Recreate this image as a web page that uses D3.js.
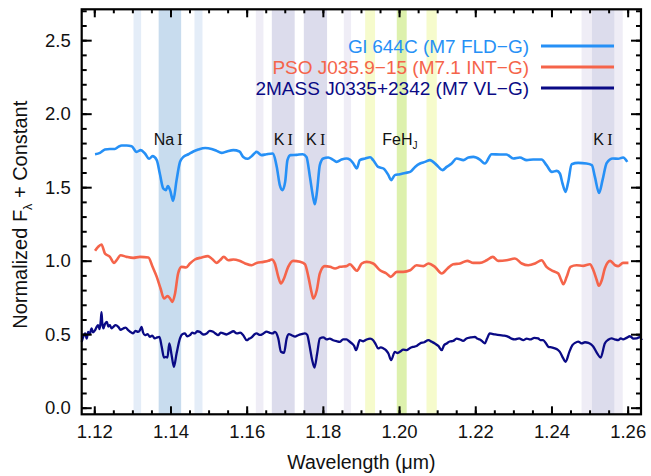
<!DOCTYPE html>
<html>
<head>
<meta charset="utf-8">
<script src="https://cdn.jsdelivr.net/npm/d3@7"></script>
<style>
  body { margin: 0; background: #fff; }
  text { font-family: "Liberation Sans", Arial, sans-serif; }
</style>
</head>
<body>
<svg id="chart" width="651" height="476"></svg>
<script>
// spectra: [wavelength (um), normalized flux + constant]
const gl644c = [
  [1.1202,1.724],[1.1215,1.733],[1.1228,1.756],[1.1241,1.760],[1.1254,1.760],[1.1263,1.774],
  [1.1272,1.784],[1.1285,1.784],[1.1298,1.779],[1.1311,1.740],[1.1322,1.752],[1.1333,1.729],
  [1.1344,1.693],[1.1353,1.711],[1.1364,1.684],[1.1372,1.593],[1.1381,1.491],[1.1388,1.480],
  [1.1393,1.507],[1.1399,1.480],[1.1407,1.407],[1.1416,1.548],[1.1425,1.672],[1.1434,1.706],
  [1.1447,1.724],[1.1460,1.743],[1.1473,1.756],[1.1491,1.767],[1.1508,1.760],[1.1521,1.747],
  [1.1534,1.733],[1.1548,1.743],[1.1565,1.752],[1.1581,1.743],[1.1591,1.706],[1.1603,1.693],
  [1.1613,1.711],[1.1626,1.740],[1.1639,1.718],[1.1652,1.724],[1.1668,1.729],[1.1679,1.638],
  [1.1687,1.514],[1.1694,1.480],[1.1701,1.536],[1.1707,1.684],[1.1715,1.718],[1.1731,1.720],
  [1.1747,1.724],[1.1757,1.706],[1.1766,1.570],[1.1775,1.423],[1.1779,1.384],[1.1785,1.480],
  [1.1792,1.650],[1.1801,1.695],[1.1814,1.702],[1.1826,1.688],[1.1836,1.672],[1.1849,1.688],
  [1.1862,1.695],[1.1871,1.688],[1.1880,1.661],[1.1889,1.627],[1.1897,1.684],[1.1911,1.695],
  [1.1924,1.704],[1.1932,1.684],[1.1945,1.638],[1.1959,1.627],[1.1972,1.582],[1.1979,1.548],
  [1.1989,1.582],[1.2002,1.588],[1.2016,1.597],[1.2029,1.604],[1.2042,1.638],[1.2055,1.661],
  [1.2068,1.672],[1.2081,1.684],[1.2099,1.650],[1.2114,1.616],[1.2125,1.638],[1.2138,1.661],
  [1.2151,1.695],[1.2169,1.684],[1.2182,1.702],[1.2195,1.706],[1.2212,1.688],[1.2225,1.661],
  [1.2243,1.724],[1.2265,1.722],[1.2282,1.722],[1.2300,1.695],[1.2317,1.702],[1.2335,1.684],
  [1.2352,1.688],[1.2374,1.688],[1.2387,1.650],[1.2401,1.604],[1.2414,1.611],[1.2422,1.593],
  [1.2429,1.525],[1.2437,1.468],[1.2444,1.536],[1.2453,1.656],[1.2470,1.665],[1.2492,1.661],
  [1.2506,1.650],[1.2514,1.570],[1.2525,1.461],[1.2534,1.548],[1.2545,1.665],[1.2561,1.695],
  [1.2575,1.693],[1.2588,1.702],[1.2599,1.672]
];

const pso035 = [
  [1.1202,1.067],[1.1210,1.094],[1.1219,1.110],[1.1228,1.049],[1.1241,1.026],[1.1252,0.985],
  [1.1260,1.008],[1.1269,1.037],[1.1285,1.026],[1.1302,1.019],[1.1320,1.026],[1.1342,1.022],
  [1.1353,0.958],[1.1364,0.890],[1.1374,0.811],[1.1383,0.743],[1.1392,0.759],[1.1399,0.743],
  [1.1405,0.720],[1.1412,0.777],[1.1420,0.913],[1.1429,0.958],[1.1441,0.954],[1.1451,0.981],
  [1.1464,1.008],[1.1482,1.022],[1.1498,1.031],[1.1511,1.008],[1.1521,0.985],[1.1530,1.003],
  [1.1540,1.026],[1.1552,1.003],[1.1565,1.008],[1.1581,0.999],[1.1596,0.981],[1.1613,0.969],
  [1.1626,0.985],[1.1644,0.992],[1.1657,0.999],[1.1666,1.008],[1.1674,0.981],[1.1683,0.890],
  [1.1690,0.845],[1.1698,0.879],[1.1709,0.958],[1.1722,0.999],[1.1740,0.992],[1.1753,0.976],
  [1.1762,0.890],[1.1771,0.777],[1.1775,0.743],[1.1784,0.799],[1.1792,0.913],[1.1805,0.963],
  [1.1819,0.958],[1.1832,0.947],[1.1845,0.958],[1.1862,0.963],[1.1871,0.976],[1.1880,0.954],
  [1.1889,0.931],[1.1902,0.981],[1.1915,0.992],[1.1932,0.981],[1.1950,0.935],[1.1967,0.913],
  [1.1978,0.890],[1.1994,0.924],[1.2011,0.924],[1.2029,0.935],[1.2046,0.969],[1.2064,0.963],
  [1.2077,0.981],[1.2094,0.958],[1.2112,0.913],[1.2127,0.947],[1.2142,0.976],[1.2160,0.981],
  [1.2179,0.999],[1.2195,0.985],[1.2212,0.985],[1.2230,1.003],[1.2246,1.026],[1.2260,0.999],
  [1.2282,1.003],[1.2304,1.015],[1.2322,0.981],[1.2339,0.969],[1.2357,0.981],[1.2374,1.003],
  [1.2387,0.958],[1.2403,0.931],[1.2418,0.913],[1.2425,0.872],[1.2431,0.840],[1.2440,0.890],
  [1.2450,0.958],[1.2466,0.969],[1.2483,0.965],[1.2501,0.976],[1.2510,0.935],[1.2519,0.867],
  [1.2524,0.829],[1.2532,0.867],[1.2540,0.947],[1.2554,0.999],[1.2567,0.969],[1.2575,0.963],
  [1.2588,0.985],[1.2602,0.985]
];

const j0335 = [
  [1.1167,0.448],[1.1171,0.482],[1.1176,0.505],[1.1180,0.470],[1.1184,0.516],[1.1188,0.500],
  [1.1193,0.539],[1.1197,0.512],[1.1202,0.527],[1.1206,0.548],[1.1210,0.561],[1.1214,0.535],
  [1.1217,0.590],[1.1219,0.650],[1.1221,0.575],[1.1224,0.539],[1.1228,0.570],[1.1233,0.584],
  [1.1237,0.552],[1.1241,0.561],[1.1245,0.540],[1.1250,0.550],[1.1256,0.562],[1.1263,0.550],
  [1.1269,0.530],[1.1276,0.539],[1.1282,0.545],[1.1289,0.527],[1.1295,0.515],[1.1302,0.505],
  [1.1308,0.522],[1.1315,0.516],[1.1320,0.528],[1.1324,0.550],[1.1328,0.512],[1.1333,0.493],
  [1.1340,0.500],[1.1346,0.482],[1.1352,0.490],[1.1359,0.471],[1.1365,0.478],[1.1371,0.482],
  [1.1377,0.414],[1.1383,0.341],[1.1388,0.345],[1.1392,0.341],[1.1397,0.437],[1.1403,0.357],
  [1.1409,0.278],[1.1416,0.369],[1.1425,0.471],[1.1431,0.500],[1.1438,0.505],[1.1444,0.485],
  [1.1451,0.493],[1.1457,0.510],[1.1464,0.505],[1.1470,0.520],[1.1477,0.516],[1.1486,0.498],
  [1.1495,0.505],[1.1503,0.522],[1.1512,0.516],[1.1518,0.505],[1.1525,0.493],[1.1532,0.510],
  [1.1539,0.505],[1.1547,0.498],[1.1556,0.509],[1.1565,0.520],[1.1574,0.505],[1.1583,0.510],
  [1.1591,0.493],[1.1600,0.459],[1.1607,0.470],[1.1613,0.478],[1.1620,0.498],[1.1626,0.505],
  [1.1635,0.495],[1.1644,0.505],[1.1652,0.518],[1.1661,0.509],[1.1668,0.505],[1.1674,0.516],
  [1.1683,0.471],[1.1690,0.380],[1.1698,0.373],[1.1705,0.471],[1.1711,0.500],[1.1718,0.493],
  [1.1727,0.484],[1.1735,0.493],[1.1744,0.500],[1.1753,0.505],[1.1759,0.495],[1.1764,0.437],
  [1.1772,0.323],[1.1778,0.273],[1.1785,0.369],[1.1792,0.471],[1.1801,0.478],[1.1810,0.464],
  [1.1818,0.470],[1.1827,0.459],[1.1836,0.452],[1.1845,0.448],[1.1853,0.465],[1.1862,0.464],
  [1.1869,0.452],[1.1876,0.437],[1.1882,0.420],[1.1887,0.391],[1.1897,0.459],[1.1906,0.452],
  [1.1915,0.464],[1.1924,0.470],[1.1932,0.459],[1.1939,0.430],[1.1945,0.403],[1.1952,0.410],
  [1.1959,0.403],[1.1966,0.390],[1.1972,0.369],[1.1979,0.323],[1.1989,0.380],[1.1995,0.372],
  [1.2002,0.380],[1.2011,0.395],[1.2020,0.391],[1.2028,0.405],[1.2037,0.414],[1.2046,0.420],
  [1.2055,0.437],[1.2066,0.445],[1.2077,0.459],[1.2086,0.448],[1.2094,0.437],[1.2103,0.420],
  [1.2112,0.391],[1.2118,0.425],[1.2125,0.437],[1.2133,0.450],[1.2142,0.454],[1.2151,0.470],
  [1.2160,0.464],[1.2168,0.455],[1.2177,0.471],[1.2188,0.478],[1.2199,0.482],[1.2205,0.470],
  [1.2212,0.464],[1.2219,0.450],[1.2225,0.437],[1.2231,0.470],[1.2238,0.505],[1.2252,0.498],
  [1.2265,0.493],[1.2276,0.490],[1.2287,0.482],[1.2295,0.470],[1.2304,0.464],[1.2315,0.472],
  [1.2326,0.459],[1.2335,0.470],[1.2344,0.464],[1.2355,0.475],[1.2365,0.471],[1.2371,0.460],
  [1.2378,0.459],[1.2385,0.440],[1.2392,0.414],[1.2400,0.410],[1.2409,0.403],[1.2416,0.395],
  [1.2422,0.380],[1.2431,0.335],[1.2437,0.312],[1.2447,0.380],[1.2455,0.425],[1.2462,0.441],
  [1.2470,0.450],[1.2479,0.437],[1.2488,0.445],[1.2497,0.441],[1.2504,0.430],[1.2510,0.414],
  [1.2520,0.369],[1.2529,0.341],[1.2540,0.437],[1.2549,0.462],[1.2558,0.471],[1.2566,0.465],
  [1.2575,0.459],[1.2582,0.472],[1.2588,0.464],[1.2597,0.475],[1.2606,0.486],[1.2615,0.470],
  [1.2624,0.471],[1.2631,0.480],[1.2637,0.459]
];

const seriesNames = ["Gl 644C (M7 FLD\u2212G)", "PSO J035.9\u221215 (M7.1 INT\u2212G)", "2MASS J0335+2342 (M7 VL\u2212G)"];
const seriesColors = ["#2690f6", "#f5644a", "#0a0a85"];

// shaded index regions [start, end, colour]
const bands = [
  [1.1303, 1.1323, "#e4edf8"], [1.1369, 1.1428, "#c8dcee"], [1.1463, 1.1484, "#e4edf8"],
  [1.1624, 1.1644, "#efedf6"], [1.1666, 1.1726, "#dcdcec"], [1.1750, 1.1811, "#dcdcec"],
  [1.1855, 1.1874, "#efedf6"],
  [1.1911, 1.1937, "#f6fbcc"], [1.1994, 1.2020, "#ddf1ad"], [1.2072, 1.2099, "#f6fbcc"],
  [1.2479, 1.2506, "#efedf6"], [1.2506, 1.2566, "#dcdcec"], [1.2566, 1.2587, "#efedf6"]
];

// feature labels [wavelength, element, ion, subscript]
const features = [
  [1.1394, "Na", "I", ""], [1.1696, "K", "I", ""], [1.1781, "K", "I", ""],
  [1.2002, "FeH", "", "J"], [1.2535, "K", "I", ""]
];

const xTicks = [1.12, 1.14, 1.16, 1.18, 1.20, 1.22, 1.24, 1.26];
const yTicks = [0.0, 0.5, 1.0, 1.5, 2.0, 2.5];

const margin = { top: 9.3, right: 10, bottom: 61.7, left: 81.7 };
const width = 651, height = 476;

const svg = d3.select("#chart");

const x = d3.scaleLinear().domain([1.1167, 1.2635]).range([margin.left, width - margin.right]);
const y = d3.scaleLinear().domain([-0.045, 2.71]).range([height - margin.bottom, margin.top]);

// bands
svg.append("g")
  .selectAll("rect")
  .data(bands)
  .join("rect")
  .attr("x", d => x(d[0]))
  .attr("width", d => x(d[1]) - x(d[0]))
  .attr("y", y.range()[1])
  .attr("height", y.range()[0] - y.range()[1])
  .attr("fill", d => d[2]);

// spectra
const line = d3.line().x(d => x(d[0])).y(d => y(d[1])).curve(d3.curveMonotoneX);
[gl644c, pso035, j0335].forEach((s, i) => {
  svg.append("path")
    .attr("d", line(s))
    .attr("fill", "none")
    .attr("stroke", seriesColors[i])
    .attr("stroke-width", i == 2 ? 2.3 : 2.6)
    .attr("stroke-linejoin", "round");
});

// feature labels
const lab = svg.append("g")
  .selectAll("text")
  .data(features)
  .join("text")
  .attr("x", d => x(d[0]))
  .attr("y", y(1.785))
  .attr("text-anchor", "middle")
  .attr("font-size", 16)
  .attr("fill", "#111");
lab.append("tspan").text(d => d[1]);
lab.filter(d => d[2]).append("tspan")
  .attr("font-family", "'Liberation Serif', 'Times New Roman', serif")
  .text(d => "\u2009" + d[2]);
lab.filter(d => d[3]).append("tspan")
  .attr("font-size", 10).attr("dy", 4)
  .text(d => d[3]);

// axes
const frame = svg.append("g");
const tickFmt = d3.format(".2f");
const minorX = d3.range(1.12, 1.2631, 0.005);
const minorY = d3.range(0, 2.71, 0.1);

frame.append("g")
  .attr("transform", `translate(0,${y.range()[0]})`)
  .call(d3.axisBottom(x).tickValues(minorX).tickSize(-4).tickFormat(""))
  .call(g => g.select(".domain").remove());
frame.append("g")
  .attr("transform", `translate(0,${y.range()[0]})`)
  .call(d3.axisBottom(x).tickValues(xTicks).tickSize(-8).tickPadding(11).tickFormat(tickFmt))
  .call(g => g.select(".domain").remove());
frame.append("g")
  .attr("transform", `translate(0,${y.range()[1]})`)
  .call(d3.axisTop(x).tickValues(minorX).tickSize(-4).tickFormat(""))
  .call(g => g.select(".domain").remove());
frame.append("g")
  .attr("transform", `translate(0,${y.range()[1]})`)
  .call(d3.axisTop(x).tickValues(xTicks).tickSize(-8).tickFormat(""))
  .call(g => g.select(".domain").remove());

frame.append("g")
  .attr("transform", `translate(${x.range()[0]},0)`)
  .call(d3.axisLeft(y).tickValues(minorY).tickSize(-5).tickFormat(""))
  .call(g => g.select(".domain").remove());
frame.append("g")
  .attr("transform", `translate(${x.range()[0]},0)`)
  .call(d3.axisLeft(y).tickValues(yTicks).tickSize(-10).tickPadding(11).tickFormat(d3.format(".1f")))
  .call(g => g.select(".domain").remove());
frame.append("g")
  .attr("transform", `translate(${x.range()[1]},0)`)
  .call(d3.axisRight(y).tickValues(minorY).tickSize(-5).tickFormat(""))
  .call(g => g.select(".domain").remove());
frame.append("g")
  .attr("transform", `translate(${x.range()[1]},0)`)
  .call(d3.axisRight(y).tickValues(yTicks).tickSize(-10).tickFormat(""))
  .call(g => g.select(".domain").remove());

frame.selectAll(".tick line").attr("stroke", "#000").attr("stroke-width", 2);
frame.selectAll(".tick text")
  .attr("font-size", 18.5)
  .attr("fill", "#111")
  .attr("font-family", "'Liberation Sans', Arial, sans-serif");

frame.append("rect")
  .attr("x", x.range()[0]).attr("y", y.range()[1])
  .attr("width", x.range()[1] - x.range()[0])
  .attr("height", y.range()[0] - y.range()[1])
  .attr("fill", "none").attr("stroke", "#000").attr("stroke-width", 2.2);

// axis titles
svg.append("text")
  .attr("x", (x.range()[0] + x.range()[1]) / 2)
  .attr("y", 469)
  .attr("text-anchor", "middle")
  .attr("font-size", 19.5)
  .attr("fill", "#111")
  .text("Wavelength (\u03bcm)");

const yt = svg.append("text")
  .attr("transform", `translate(27,${(y.range()[0] + y.range()[1]) / 2 + 3}) rotate(-90)`)
  .attr("text-anchor", "middle")
  .attr("font-size", 20)
  .attr("fill", "#111");
yt.append("tspan").text("Normalized F");
yt.append("tspan").attr("font-size", 12.5).attr("dy", 5).text("\u03bb");
yt.append("tspan").attr("dy", -5).text(" + Constant");

// legend
const legend = svg.append("g")
  .selectAll("g")
  .data(seriesNames)
  .join("g")
  .attr("transform", (d, i) => `translate(0,${46 + i * 21})`);
legend.append("text")
  .attr("x", 529)
  .attr("dy", "0.35em")
  .attr("text-anchor", "end")
  .attr("font-size", 19)
  .attr("fill", (d, i) => seriesColors[i])
  .text(d => d);
legend.append("line")
  .attr("x1", 541).attr("x2", 614)
  .attr("stroke", (d, i) => seriesColors[i])
  .attr("stroke-width", 2.8);
</script>
</body>
</html>
